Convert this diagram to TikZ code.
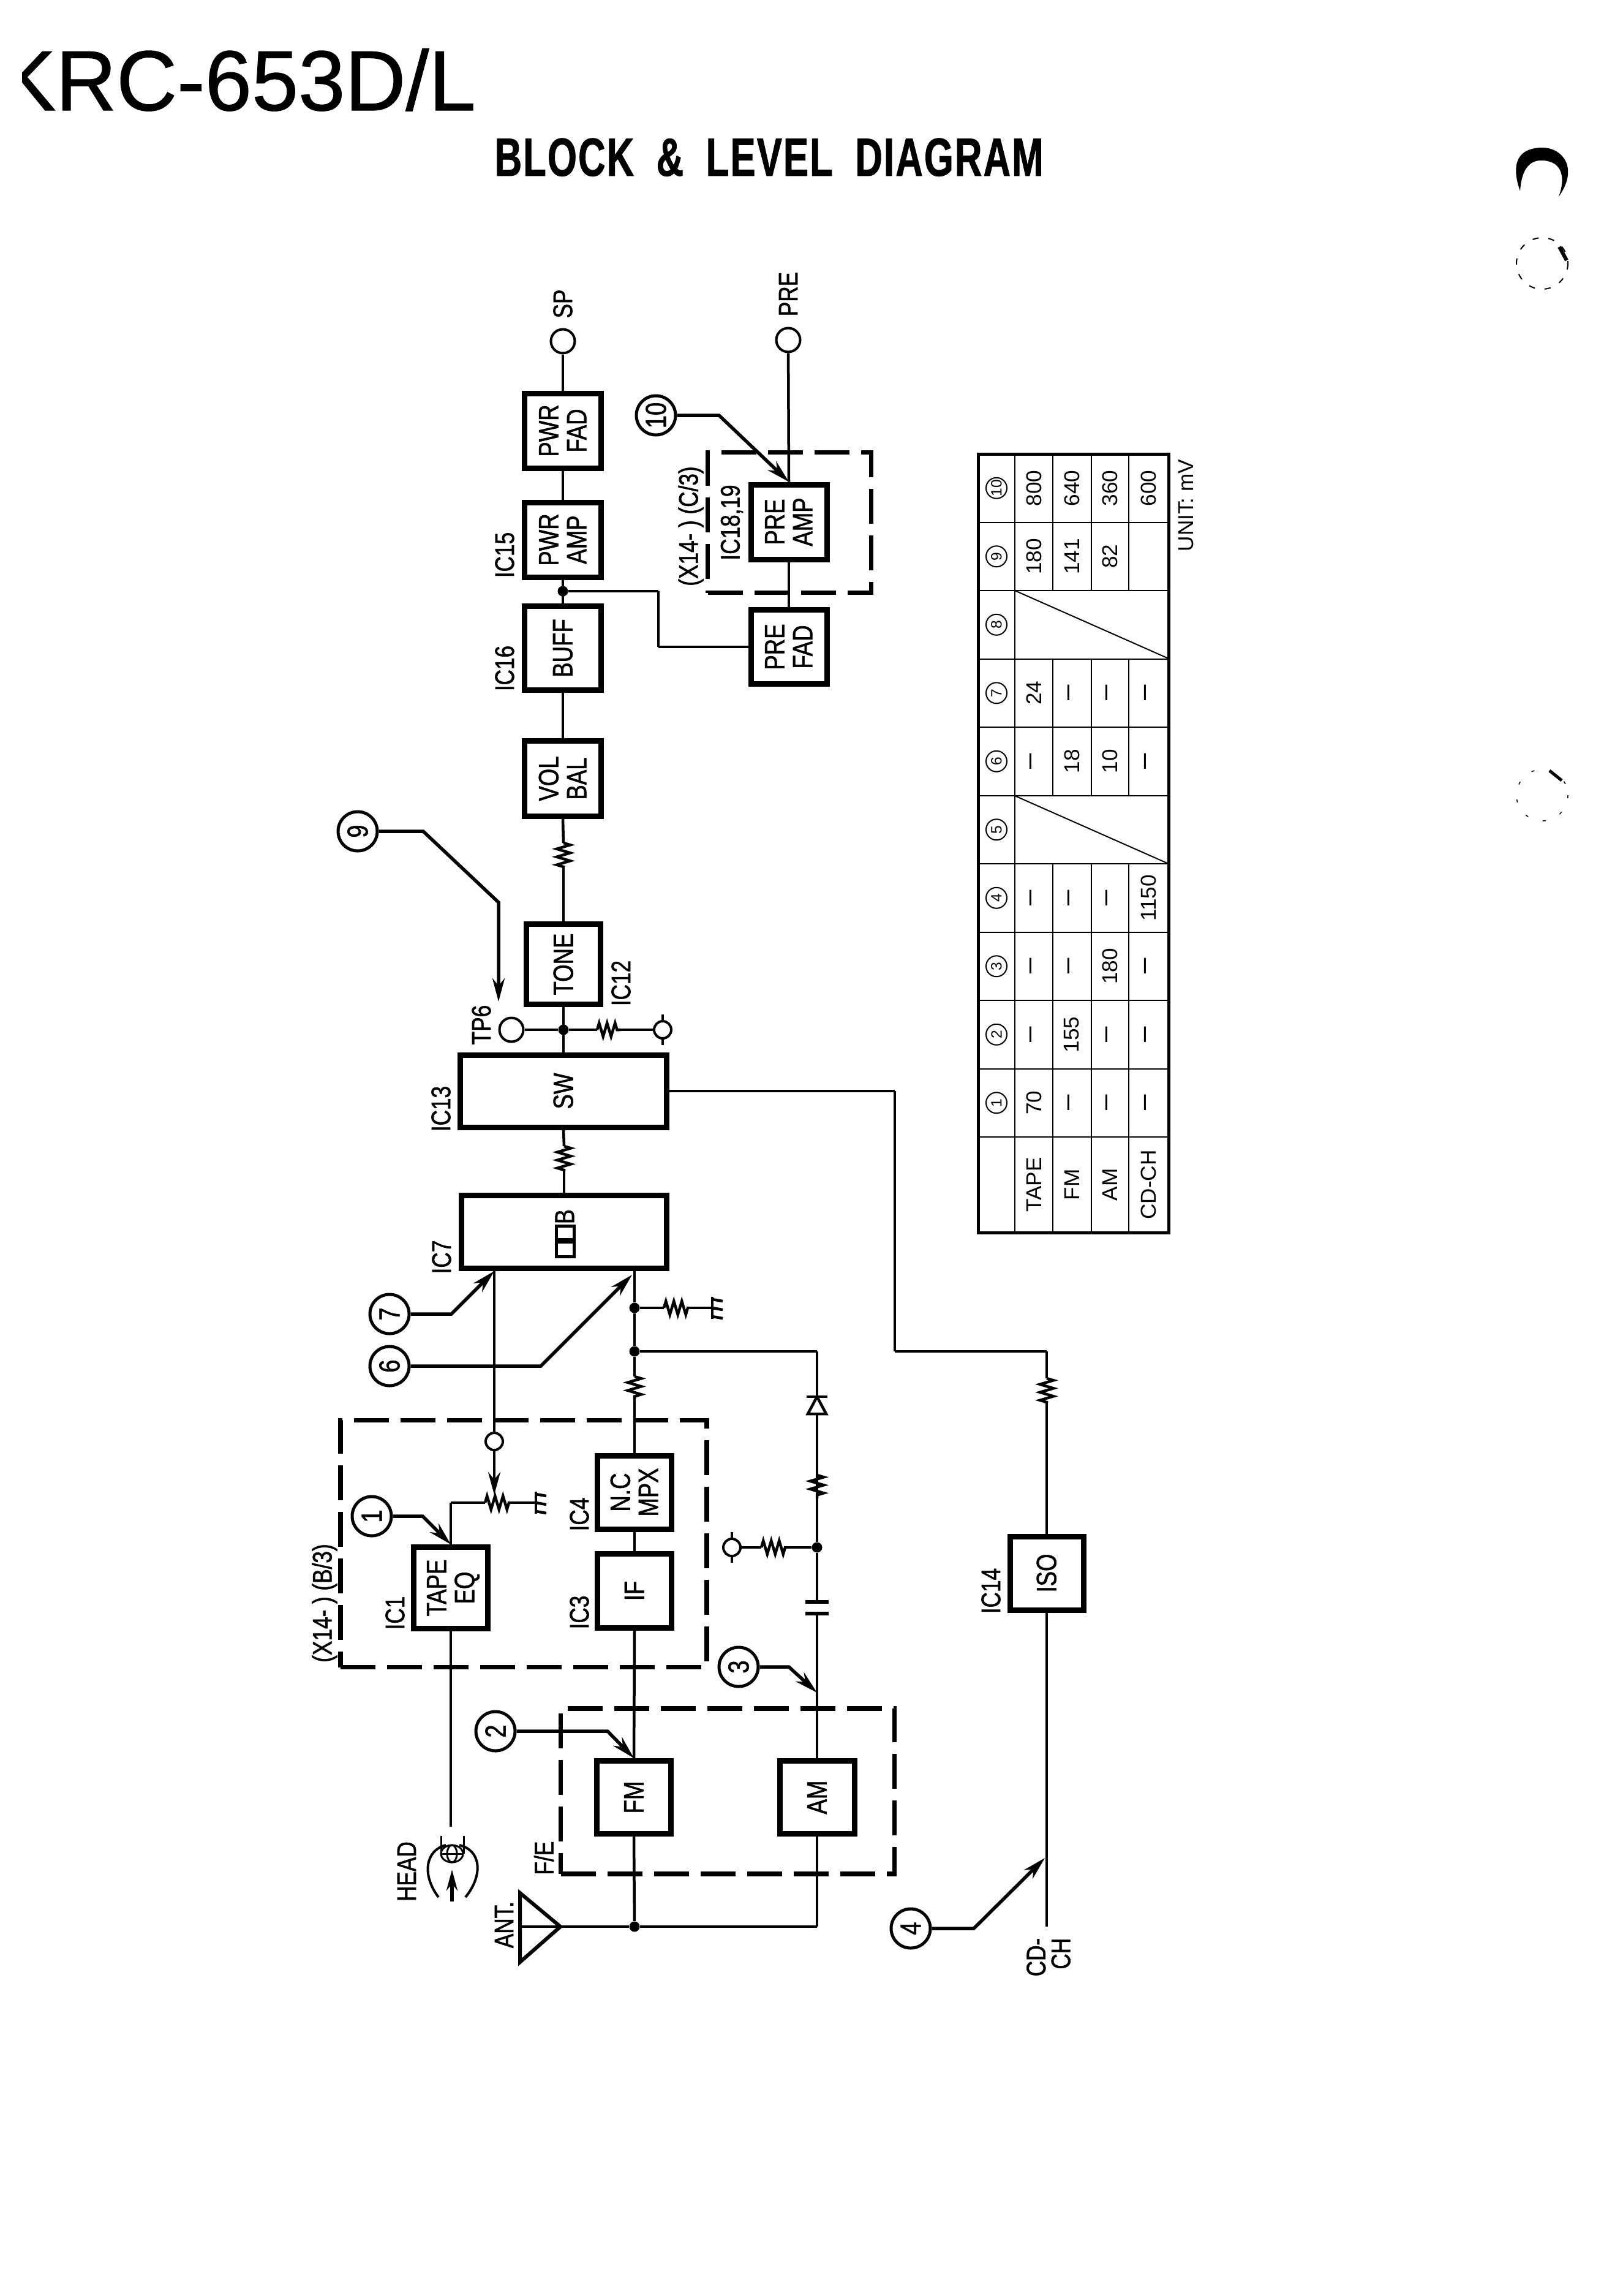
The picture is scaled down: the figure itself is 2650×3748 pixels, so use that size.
\documentclass[tikz,border=0pt]{standalone}
\usepackage{fontspec}
\setmainfont{Liberation Sans}
\newfontfamily\lblfont[FakeStretch=0.8,FakeBold=1.3]{Liberation Sans}
\newfontfamily\pagefont[FakeStretch=0.985,FakeBold=0.8]{Liberation Sans}
\newfontfamily\headfont[FakeStretch=0.7,FakeBold=1,LetterSpace=2.5,WordSpace=1.9]{Liberation Sans}
\usetikzlibrary{arrows.meta,decorations.pathmorphing}
\newcommand{\vtxt}[1]{\rotatebox{90}{\raisebox{-1.8pt}[\height][\depth]{\begin{tabular}{@{}c@{}}#1\end{tabular}}}}
\newcommand{\dsh}{{\fontsize{13pt}{13pt}\selectfont\textendash}}
\tikzset{
  % --- blocks ----------------------------------------------------------------
  blk/.style={rectangle,draw,line width=0.9mm,inner sep=0pt,
              font=\lblfont\fontsize{13pt}{13pt}\selectfont},
  dashbox/.style={rectangle,draw,line width=0.75mm,inner sep=0pt,
                  dash pattern=on 5.7mm off 1.9mm},
  % --- wiring ----------------------------------------------------------------
  wire/.style={line width=0.45mm},
  zig/.style={wire,decorate,decoration={zigzag,segment length=1.3mm,amplitude=1.1mm}},
  lead/.style={line width=0.55mm,-{Stealth[length=3.8mm,width=2mm]}},
  jdot/.style={circle,fill,inner sep=0pt,minimum size=1.7mm},
  tpt/.style={circle,draw,fill=white,line width=0.4mm,inner sep=0pt,minimum size=2.8mm},
  jack/.style={tpt,minimum size=3.9mm},
  gndsym/.pic={
    \draw[wire] (0,-18) -- (0,18);
    \foreach \k in {-14,0,14} \draw[wire] (0,\k) -- (17,\k+3);
  },
  % --- markers and texts -----------------------------------------------------
  mrk/.style={circle,draw,line width=0.5mm,inner sep=0pt,minimum size=6.4mm,rotate=90,
              font=\lblfont\fontsize{13.5pt}{13.5pt}\selectfont},
  lbl/.style={rotate=90,inner sep=0pt,align=right,
              font=\lblfont\fontsize{12.5pt}{11.5pt}\selectfont},
  tmrk/.style={circle,draw,line width=0.2mm,inner sep=0pt,minimum size=3.4mm,rotate=90,
               font=\fontsize{7pt}{7pt}\selectfont},
  tcell/.style={rotate=90,inner sep=0pt,font=\fontsize{10pt}{10pt}\selectfont},
}

\begin{document}
\begin{tikzpicture}[x=0.1mm, y=-0.1mm]
  \useasboundingbox (0,0) rectangle (2650,3748);

  % page headings
  \node[anchor=base west,inner sep=0pt,font=\pagefont\fontsize{39.6pt}{40pt}\selectfont]
       (pagename) at (-1,180) {KRC-653D/L};
  \fill[white] (0,70) rectangle (36,190);
  \node[anchor=base west,inner sep=0pt,font=\headfont\bfseries\fontsize{25pt}{25pt}\selectfont]
       (heading) at (807,287) {BLOCK \& LEVEL DIAGRAM};

  % dashed sub-assemblies go under the wiring
  \foreach \nm/\cx/\cy/\bw/\bh in {ifb/855/2520/598/403, feb/1188/2924/545/270, pab/1289/853/267/229}
    \node[dashbox,minimum width=\bw*0.1mm,minimum height=\bh*0.1mm] (\nm) at (\cx,\cy) {};

  % {name}{centre}{outer size}{text}
  \foreach \nm/\cx/\cy/\bw/\bh/\txt in {%
      tapeq/736/2592/130/142/{TAPE\\EQ},
      ncmpx/1036/2436/130/129/{N.C\\MPX},
      ifamp/1036/2597/130/130/{IF},
      fm/1035/2934/130/128/{FM},
      am/1334/2934/131/128/{AM},
      tone/920/1574/130/140/{TONE},
      sw/920/1781/346/127/{SW},
      volbal/919/1271/134/132/{VOL\\BAL},
      buff/919/1058/134/146/{BUFF},
      pwramp/919/881/134/131/{PWR\\AMP},
      pwrfad/919/703/134/131/{PWR\\FAD},
      preamp/1288/852/133/131/{PRE\\AMP},
      prefad/1288/1056/133/130/{PRE\\FAD},
      iso/1709/2568/129/129/{ISO}}
    \node[blk,minimum width=(\bw-9)*0.1mm,minimum height=(\bh-9)*0.1mm] (\nm) at (\cx,\cy) {\vtxt{\txt}};

  % the noise-reduction block carries a logo rather than plain text
  \node[blk,minimum width=335*0.1mm,minimum height=119*0.1mm] (dob) at (921,2011) {};
  \draw[line width=0.5mm] (908,2027) rectangle (937,2051);
  \draw[line width=0.5mm] (908,2001) rectangle (937,2023);
  \node[inner sep=0pt,rotate=90,font=\lblfont\fontsize{12.7pt}{12.7pt}\selectfont] (dobb) at (922,1986) {B};

  % junctions, terminals
  \foreach \nm/\cx/\cy in {j1/1036/2135, j2/1036/2206, j3/1334/2526, j4/920/1681, j5/919/965, antj/1036/3145}
    \node[jdot] (\nm) at (\cx,\cy) {};
  \foreach \nm/\cx/\cy in {tapein/807/2353, tnoise/1195/2526, tfeed/1082/1681}
    \node[tpt] (\nm) at (\cx,\cy) {};
  \foreach \nm/\cx/\cy in {tp6/835/1681, spout/919/557, preout/1287/555}
    \node[jack] (\nm) at (\cx,\cy) {};
  \draw[wire] ([yshift=2.5mm]tnoise.center) -- (tnoise.north);
  \draw[wire] (tnoise.south) -- ([yshift=-2.5mm]tnoise.center);
  \draw[wire] ([yshift=2.5mm]tfeed.center) -- (tfeed.north);
  \draw[wire] (tfeed.south) -- ([yshift=-2.5mm]tfeed.center);

  % fixed points on the wiring
  \foreach \nm/\cx/\cy in {%
      r1a/920/1376, r1b/920/1415, r2a/921/1871, r2b/921/1912, r3a/1036/2247, r3b/1036/2284,
      r4a/1084/2135, r4b/1124/2135, r5a/1334/2408, r5b/1334/2446, r6a/1243/2526, r6b/1284/2526,
      r7a/975/1681, r7b/1013/1681, r8a/1709/2250, r8b/1709/2290, r9a/792/2453, r9b/832/2453,
      gnda/1163/2135, gndb/875/2453, diodea/1334/2280, diodeb/1334/2308,
      capa/1334/2615, capb/1334/2634, amtop/1334/2206, tapetop/736/2453,
      swa/1461/1781, swb/1461/2206, swc/1709/2206, prea/1075/965,
      headin/736/2982, cdin/1709/3145, antout/915/3145, wiper/807/2440,
      at3/1334/2763, at4/1706/3033, at6/1032/2081, at9/814/1635}
    \coordinate (\nm) at (\cx,\cy);

  \foreach \a/\b in {%
      tone.north/r1b, r1a/volbal.south, volbal.north/buff.south, buff.north/pwramp.south,
      pwramp.north/pwrfad.south, pwrfad.north/spout, tone.south/sw.north, sw.south/r2a,
      r2b/dob.north, tp6/j4, j4/r7a, r7b/tfeed,
      antout/antj, antj/fm.south, fm.north/ifamp.south, ifamp.north/ncmpx.south, ncmpx.north/r3b,
      r3a/j2, j2/j1, j1/j1 |- dob.south, j1/r4a, r4b/gnda,
      j2/amtop, amtop/diodea, diodeb/r5b, r5a/j3, j3/capa, capb/am.north, j3/r6b, r6a/tnoise,
      antj/am.south |- antj, am.south |- antj/am.south,
      tapeq.south/headin, tapeq.north/tapetop, tapetop/r9a, r9b/gndb,
      tapein/tapein |- dob.south,
      sw.east/swa, swa/swb, swb/swc, swc/r8a, r8b/iso.north, iso.south/cdin,
      j5/prea, prea/prea |- prefad.west, prea |- prefad.west/prefad.west,
      prefad.north/preamp.south, preamp.north/preout}
    \draw[wire] (\a) -- (\b);
  \foreach \a/\b in {r1a/r1b, r2a/r2b, r3a/r3b, r4a/r4b, r5a/r5b, r6a/r6b, r7a/r7b, r8a/r8b, r9a/r9b}
    \draw[zig] (\a) -- (\b);
  \pic at (gnda) {gndsym};
  \pic at (gndb) {gndsym};

  % diode and capacitor
  \draw[wire] (1317,2280) -- (1351,2280);
  \draw[wire,line join=miter] (1334,2280) -- (1319,2308) -- (1349,2308) -- cycle;
  \draw[line width=0.6mm] (1315,2615) -- (1353,2615);
  \draw[line width=0.6mm] (1315,2634) -- (1353,2634);

  % antenna
  \draw[line width=0.6mm,line join=miter] (849,3090) -- (antout) -- (849,3203) -- cycle;
  \draw[wire] (849,3145) -- (antout);

  % tape head
  \draw[line width=0.3mm] (720,2997) -- (720,3026);
  \draw[line width=0.3mm] (757,2997) -- (757,3026);
  \draw[line width=0.3mm] (738,3026) circle[x radius=18,y radius=14];
  \draw[line width=0.3mm] (738,3026) circle[x radius=8,y radius=14];
  \draw[line width=0.3mm] (720,3026) -- (757,3026);
  \draw[line width=0.4mm] (716,3097) .. controls (688,3060) and (695,3020) .. (728,3012);
  \draw[line width=0.4mm] (760,3097) .. controls (790,3060) and (785,3020) .. (750,3012);
  \draw[line width=0.55mm,-{Stealth[length=3.4mm,width=1.8mm]}] (738,3104) -- (738,3052);

  % level markers
  \foreach \i/\cx/\cy in {1/607/2475, 2/809/2826, 3/1206/2721, 4/1487/3148, 6/636/2230, 7/636/2145, 9/584/1357, 10/1071/678}
    \node[mrk] (m\i) at (\cx,\cy) {\i};
  \draw[lead] (m1) -- ++(83,0) -- (tapeq.north);
  \draw[lead] (m2) -- ++(183,0) -- (fm.north);
  \draw[lead] (m3) -- ++(82,0) -- (at3);
  \draw[lead] (m4) -- ++(103,0) -- (at4);
  \draw[lead] (m6) -- ++(247,0) -- (at6);
  \draw[lead] (m7) -- ++(101,0) -- (tapein |- dob.south);
  \draw[lead] (m9) -- ++(107,0) -- ++(123,116) -- (at9);
  \draw[lead] (m10) -- ++(103,0) -- (preamp.north);
  \draw[wire,-{Stealth[length=3.7mm,width=2mm]}] (tapein) -- (wiper);

  % texts beside the blocks
  \foreach \nm/\cx/\cy/\txt in {%
      lic1/645/2633/{IC1}, lic3/946/2632/{IC3}, lic4/946/2472/{IC4}, lic7/721/2052/{IC7},
      lic12/1014/1605/{IC12}, lic13/720/1810/{IC13}, lic14/1618/2597/{IC14}, lic15/824/906/{IC15},
      lic16/824/1091/{IC16}, lic18/1195/853/{IC18,19}, ltp6/786/1673/{TP6}, lhead/664/3055/{HEAD},
      lant/823/3142/{ANT.}, lfe/888/3033/{F/E}, lsp/919/496/{SP}, lpre/1287/480/{PRE},
      lxb/530/2617/{(X14-\ ) (B/3)}, lxc/1128/859/{(X14-\ ) (C/3)}, lcd/1712/3195/{CD-\\CH}}
    \node[lbl] (\nm) at (\cx,\cy) {\txt};

  % level table
  \draw[line width=0.5mm] (1597,741) rectangle (1908,2012);
  \draw[line width=0.25mm] (1657,741) -- (1657,2012);
  \foreach \x in {1719,1782,1843}{
    \draw[line width=0.2mm] (\x,741) -- (\x,964);
    \draw[line width=0.2mm] (\x,1075) -- (\x,1299);
    \draw[line width=0.2mm] (\x,1410) -- (\x,2012);
  }
  \foreach \i in {1,...,10}{
    \pgfmathsetmacro{\ty}{741+111.5*(\i)}
    \draw[line width=0.2mm] (1597,\ty) -- (1908,\ty);
  }
  \draw[line width=0.2mm] (1657,964) -- (1908,1075);
  \draw[line width=0.2mm] (1657,1299) -- (1908,1410);
  \foreach \i in {1,...,10}{
    \pgfmathsetmacro{\ty}{741+111.5*(10-\i+0.5)}
    \node[tmrk] (tm\i) at (1627,\ty) {\i};
  }
  \foreach \rw/\ra/\rb/\rc/\rd in {%
      10/800/640/360/600, 9/180/141/82/, 7/24/\dsh/\dsh/\dsh, 6/\dsh/18/10/\dsh,
      4/\dsh/\dsh/\dsh/1150, 3/\dsh/\dsh/180/\dsh, 2/\dsh/155/\dsh/\dsh, 1/70/\dsh/\dsh/\dsh}{
    \pgfmathsetmacro{\ty}{741+111.5*(10-\rw+0.5)}
    \node[tcell] (ca\rw) at (1688,\ty) {\ra};
    \node[tcell] (cb\rw) at (1750,\ty) {\rb};
    \node[tcell] (cc\rw) at (1812,\ty) {\rc};
    \node[tcell] (cd\rw) at (1875,\ty) {\rd};
  }
  \foreach \nm/\x/\txt in {rtape/1688/TAPE, rfm/1750/FM, ram/1812/AM, rcd/1875/CD-CH}
    \node[tcell] (\nm) at (\x,1934) {\txt};
  \node[tcell] (unit) at (1937,825) {UNIT: mV};

  % punch-hole shadows at the right edge
  \fill (2482,312) .. controls (2462,255) and (2490,241) .. (2518,241)
        .. controls (2552,241) and (2578,275) .. (2545,321)
        .. controls (2556,292) and (2552,264) .. (2520,262)
        .. controls (2495,260) and (2484,280) .. (2482,312);
  \draw[line width=0.2mm,dash pattern=on 1mm off 1.6mm] (2518,430) circle[radius=42];
  \draw[line width=0.6mm] (2546,403) -- (2558,425);
  \draw[line width=0.15mm,dash pattern=on 0.5mm off 2.5mm] (2518,1298) circle[radius=42];
  \draw[line width=0.5mm] (2530,1258) -- (2550,1274);
\end{tikzpicture}
\end{document}
